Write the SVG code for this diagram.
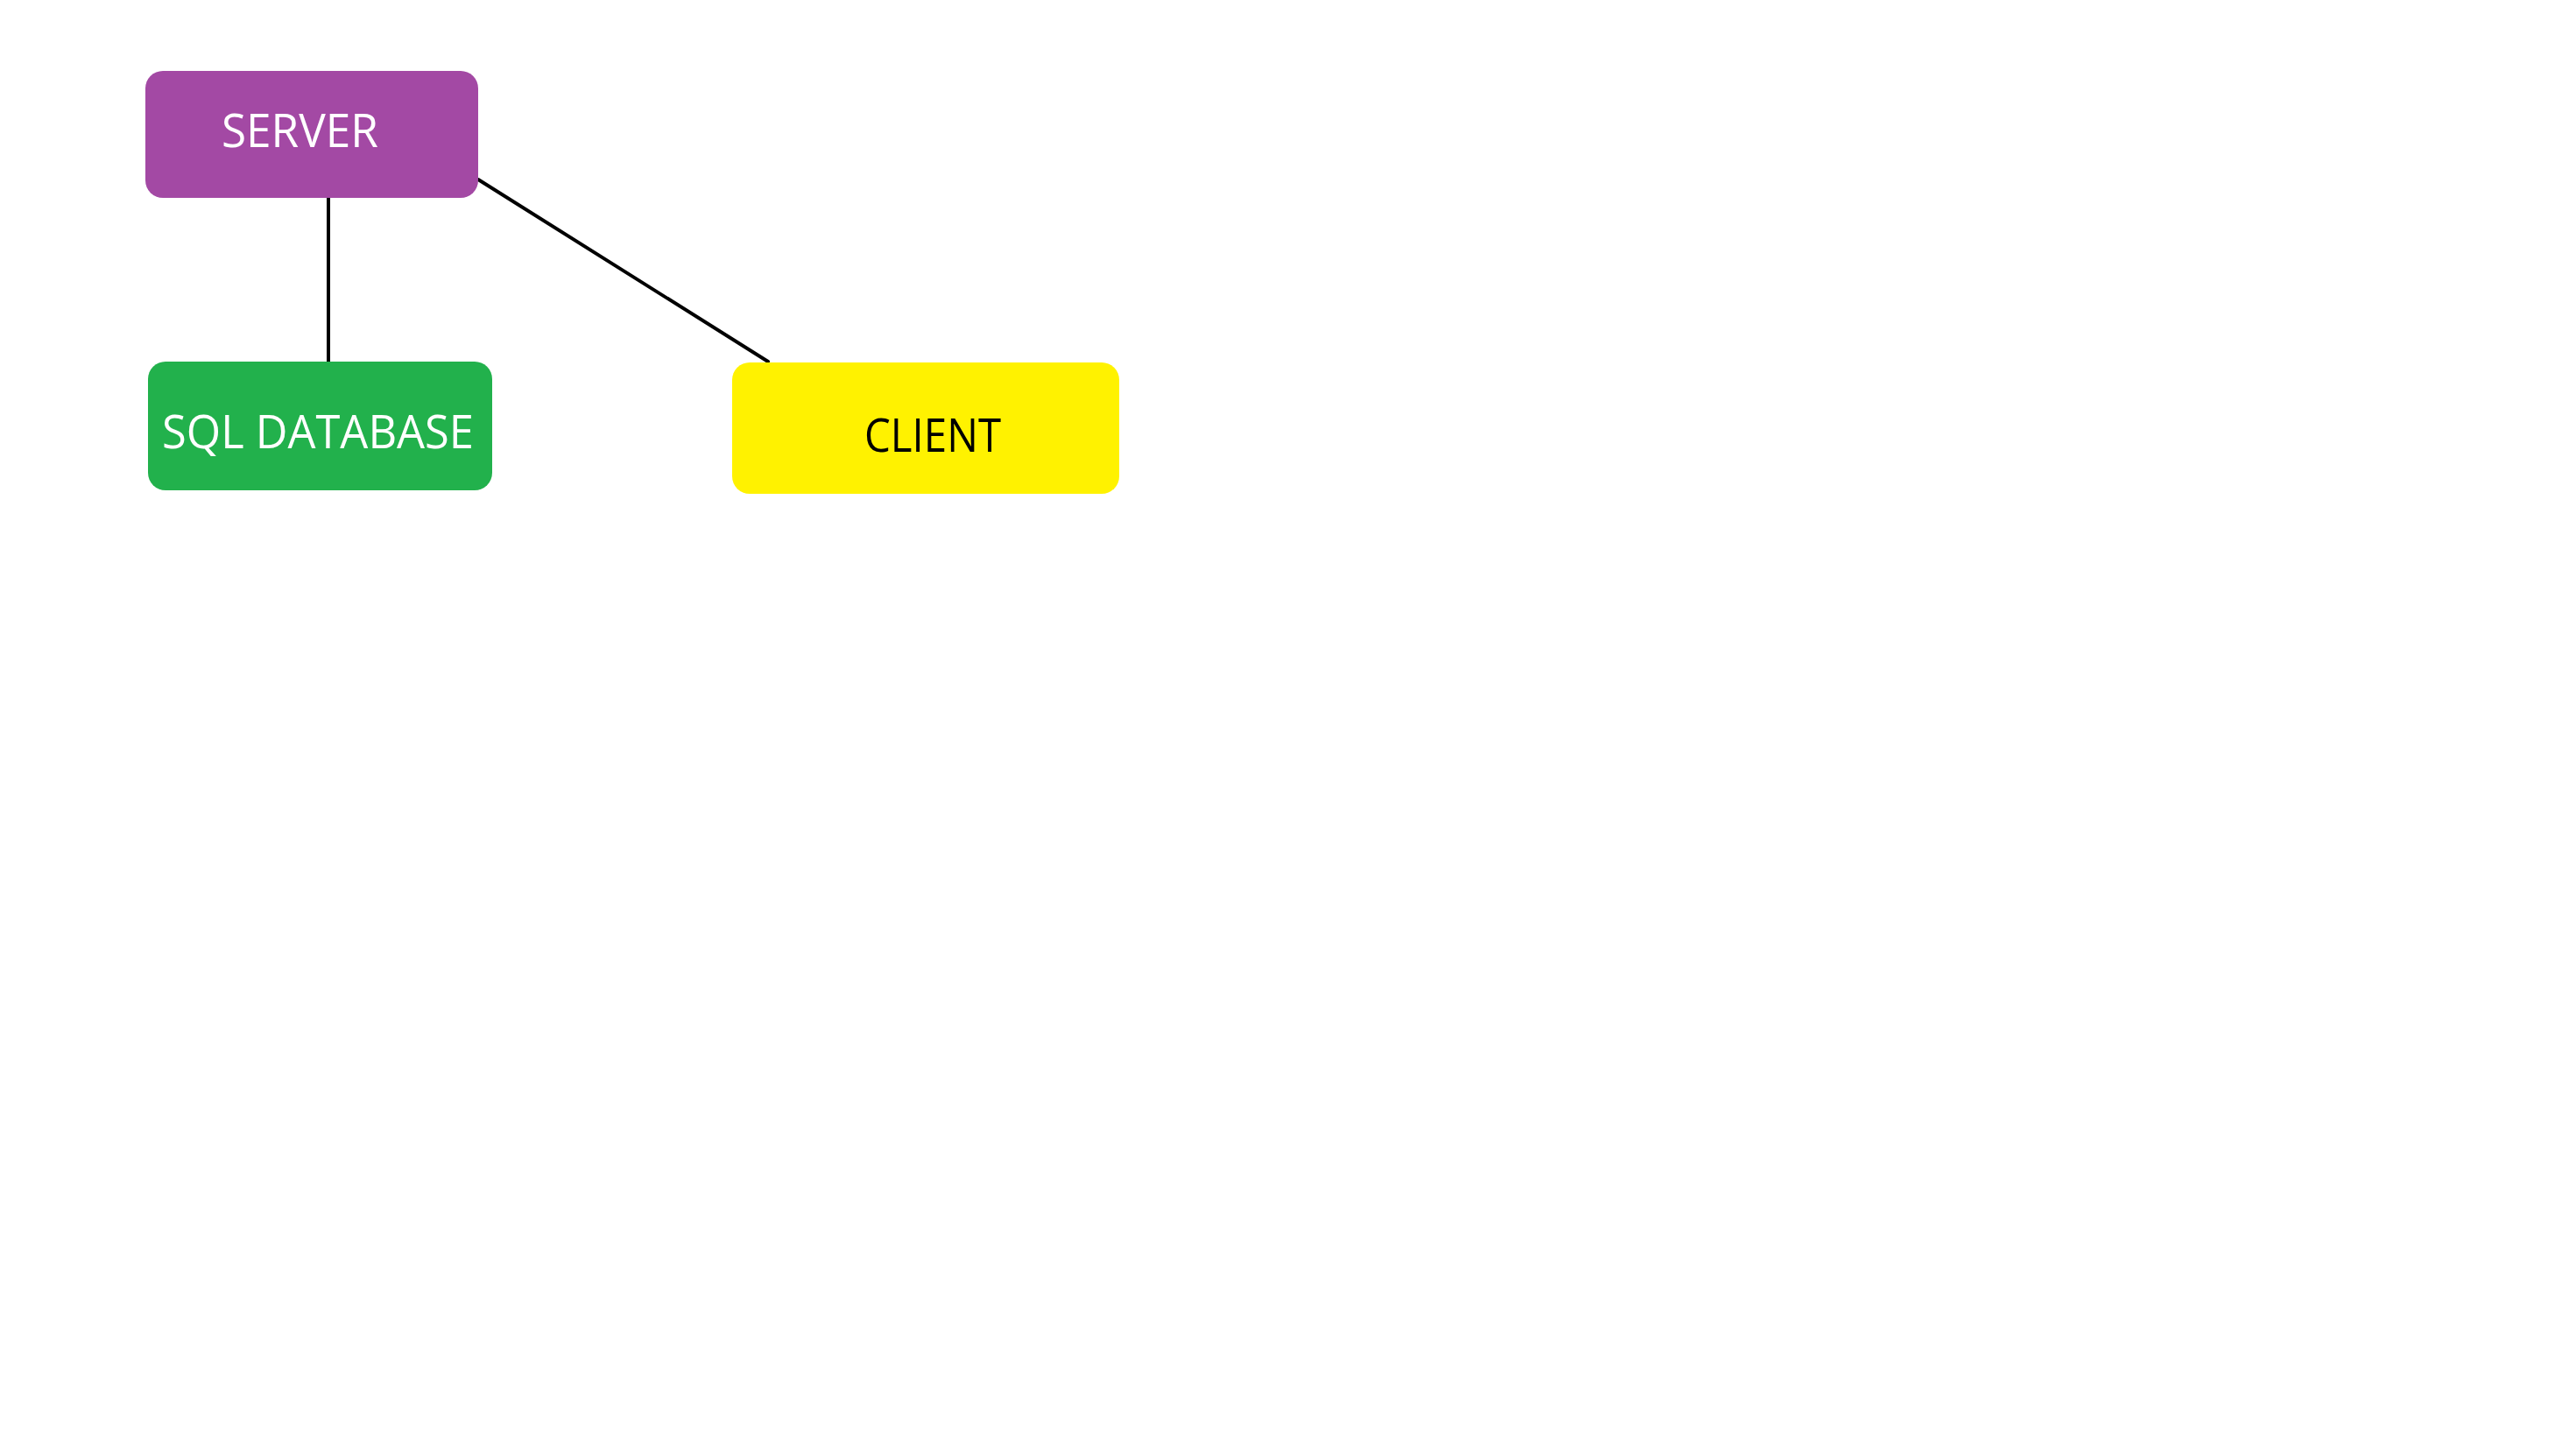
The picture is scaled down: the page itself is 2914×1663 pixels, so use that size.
<svg xmlns="http://www.w3.org/2000/svg" width="2914" height="1663" viewBox="0 0 2914 1663">
<style>
.lbl{font-family:"Open Sans","Liberation Sans",sans-serif;font-size:53px;}
.w{fill:#ffffff;}
.k{fill:#000000;}
.conn{stroke:#000000;stroke-width:4;fill:none;stroke-linecap:round;}
</style>
<rect width="2914" height="1663" fill="#ffffff"/>
<g id="connectors">
<line class="conn" x1="375" y1="226" x2="375" y2="413"/>
<line class="conn" x1="546" y1="205" x2="877" y2="413"/>
</g>
<g id="server">
<rect x="166" y="81" width="380" height="145" rx="20" fill="#A349A4"/>
<text class="lbl w" x="253" y="168" textLength="179" lengthAdjust="spacingAndGlyphs">SERVER</text>
</g>
<g id="sql-database">
<rect x="169" y="413" width="393" height="147" rx="20" fill="#22B14C"/>
<text class="lbl w" x="185" y="512" textLength="356" lengthAdjust="spacingAndGlyphs">SQL DATABASE</text>
</g>
<g id="client">
<rect x="836" y="414" width="442" height="150" rx="20" fill="#FFF200"/>
<text class="lbl k" x="987" y="516" textLength="156" lengthAdjust="spacingAndGlyphs">CLIENT</text>
</g>
</svg>
